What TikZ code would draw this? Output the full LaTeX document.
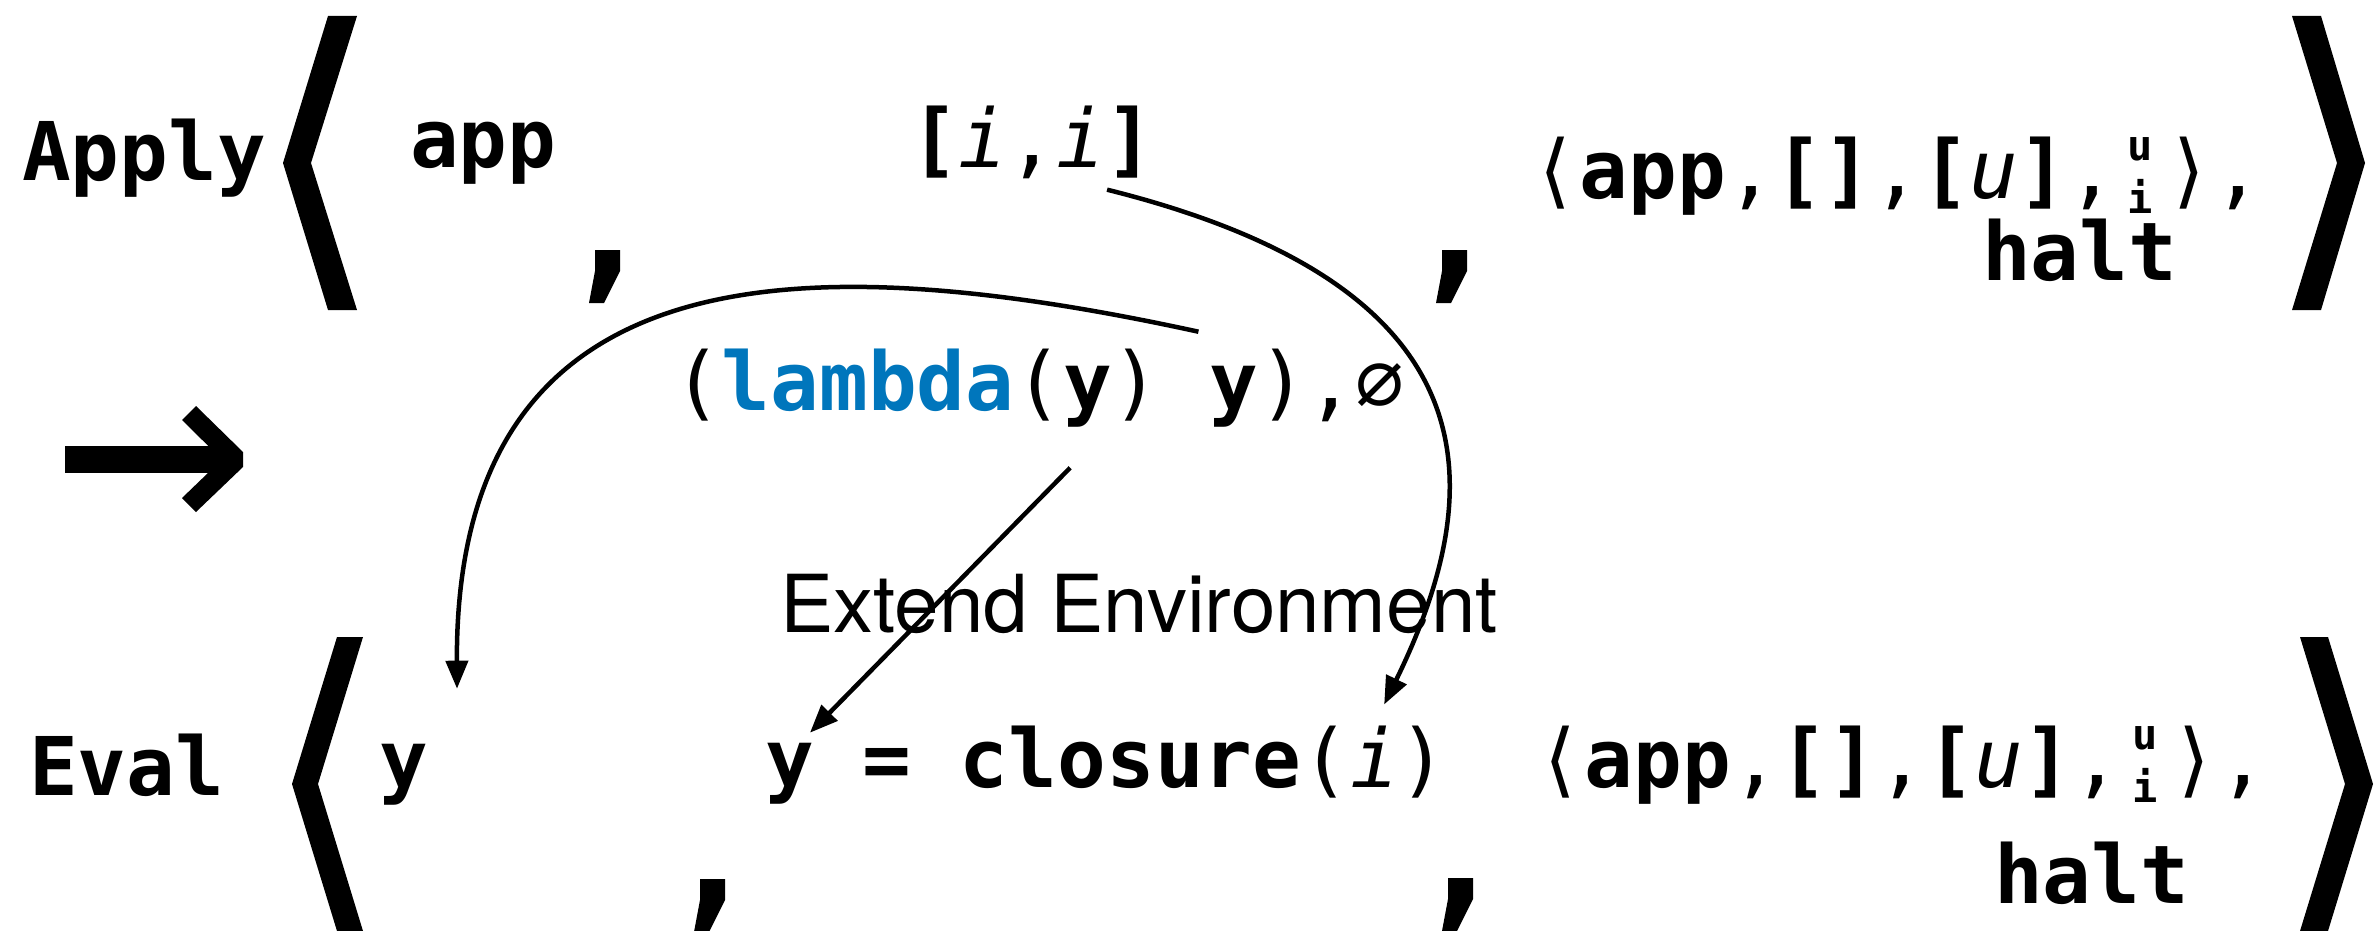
\documentclass[tikz,border=0pt]{standalone}
\usepackage{fontspec}
\setmonofont{DejaVu Sans Mono}
\newfontfamily\djs{DejaVu Sans}
\newfontfamily\helv{TeX Gyre Heros}
\usetikzlibrary{arrows.meta}
\definecolor{lblue}{RGB}{0,118,188}
\def\cw{48.76pt}
\newcommand\stk{\makebox[\cw]{\fontsize{42}{42}\selectfont\bfseries\rlap{\raisebox{38pt}{u}}\raisebox{-15pt}{i}}}
\newcommand\lang{\makebox[\cw]{\djs ⟨}}
\newcommand\rang{\makebox[\cw]{\djs ⟩}}
\newcommand\bigcomma[2]{\fill (#1,#2) -- ++(25,0) -- ++(0,21) -- ++(-16,32) -- ++(-15,0) -- ++(6,-32) -- cycle;}
\begin{document}
\begin{tikzpicture}[x=1pt,y=-1pt,
  txt/.style={inner sep=0pt,outer sep=0pt,anchor=base west,font=\fontsize{81}{97}\selectfont\ttfamily},
  conn/.style={line width=4.5pt,-{Triangle[length=28pt,width=22pt]}}]
\useasboundingbox (0,0) rectangle (2379,931);

% big angle brackets
\fill (328,16) -- (283,163) -- (328,310) -- (357,310) -- (311,163) -- (357,16) -- cycle;
\fill (2292,16) -- (2321,16) -- (2365,163) -- (2321,310) -- (2292,310) -- (2337,163) -- cycle;
\fill (337,637) -- (292,784) -- (337,931) -- (363,931) -- (318,784) -- (363,637) -- cycle;
\fill (2300,637) -- (2328,637) -- (2373,784) -- (2328,931) -- (2300,931) -- (2345,784) -- cycle;

% big commas
\bigcomma{595}{250}
\bigcomma{1442}{250}
\bigcomma{700}{879}
\bigcomma{1448}{878}

% big arrow
\fill (65,446) rectangle (224,473);
\fill (196,406) -- (243,452) -- (243,467) -- (196,512) -- (182,498) -- (222,459.5) -- (182,420) -- cycle;

% upper row
\node[txt] (apply) at (22,180) {\textbf{Apply}};
\node[txt] (app) at (410,167) {\textbf{app}};
\node[txt] (iiA) at (910,167) {\textbf{[}\textit{i},};
\node[txt] (iiB) at (iiA.base east) {\textit{i}};
\node[txt] (iiC) at (iiB.base east) {\textbf{]}};
\node[txt] (kont1) at (1531,198) {\lang\textbf{app},\textbf{[]},\textbf{[}\textit{u}\textbf{]},\stk\rang,};
\node[txt] (halt1) at (1982,280) {\textbf{halt}};

% middle row
\node[txt] (lp1) at (673,410) {(\textcolor{lblue}{\textbf{lambda}}(};
\node[txt] (lparam) at (lp1.base east) {\textbf{y}};
\node[txt] (lp2) at (lparam.base east) {)\hspace*{\cw}};
\node[txt] (lbody) at (lp2.base east) {\textbf{y}};
\node[txt] (lp3) at (lbody.base east) {),∅};

\node[anchor=base west,inner sep=0pt,font=\helv\fontsize{80}{96}\selectfont] (ext) at (780,632) {Extend Environment};

% lower row
\node[txt] (eval) at (29,795) {\textbf{Eval}};
\node[txt] (evy) at (379,788) {\textbf{y}};
\node[txt] (cy) at (765,787) {\textbf{y}};
\node[txt] (cmid) at (cy.base east) {\hspace*{\cw}\textbf{=}\hspace*{\cw}\textbf{closure}(};
\node[txt] (ci) at (cmid.base east) {\textit{i}};
\node[txt] (cend) at (ci.base east) {)};
\node[txt] (kont2) at (1536,787) {\lang\textbf{app},\textbf{[]},\textbf{[}\textit{u}\textbf{]},\stk\rang,};
\node[txt] (halt2) at (1994,903) {\textbf{halt}};

% connectors
\draw[conn] ([xshift=-11pt,yshift=34pt]lbody.north west) .. controls (800,245) and (455,250) .. ([xshift=78pt,yshift=55pt]evy.north west);
\draw[conn] ([xshift=2pt,yshift=-12pt]iiC.south west) .. controls (1498,287) and (1490,488) .. ([xshift=34pt,yshift=21pt]ci.north west);
\draw[conn] ([xshift=7pt,yshift=-41pt]lparam.south west) -- ([xshift=45pt,yshift=10pt]cy.north west);
\end{tikzpicture}
\end{document}
